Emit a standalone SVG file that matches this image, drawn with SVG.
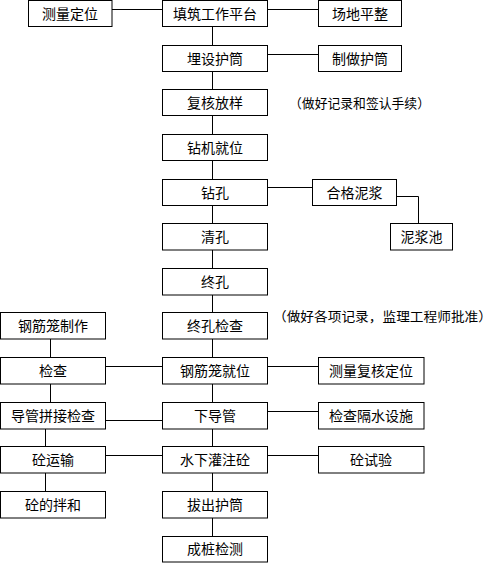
<svg xmlns="http://www.w3.org/2000/svg" width="497" height="563" viewBox="0 0 497 563">
<style>
rect{fill:#fff;stroke:#000;stroke-width:1}
text{font-family:"Noto Sans CJK SC","Noto Sans",sans-serif;font-size:14px;fill:#000;text-anchor:middle}
.ann{text-anchor:start;font-size:13px}
#connectors line,#connectors polyline{stroke:#000;stroke-width:1;fill:none}
</style>
<rect x="0" y="0" width="497" height="563" style="stroke:none"/>
<g id="connectors">
<line x1="212.5" y1="27" x2="212.5" y2="536"/>
<line x1="112" y1="9.5" x2="162.5" y2="9.5"/>
<line x1="267.5" y1="9.5" x2="318.5" y2="9.5"/>
<line x1="267.5" y1="54.5" x2="318.5" y2="54.5"/>
<line x1="267.5" y1="187.5" x2="312.5" y2="187.5"/>
<polyline points="396.5,196.5 418.5,196.5 418.5,223.5"/>
<line x1="105.5" y1="366.5" x2="162.5" y2="366.5"/>
<line x1="267.5" y1="366.5" x2="318.5" y2="366.5"/>
<line x1="105.5" y1="420.5" x2="162.5" y2="420.5"/>
<line x1="267.5" y1="411.5" x2="318.5" y2="411.5"/>
<line x1="105.5" y1="455.5" x2="162.5" y2="455.5"/>
<line x1="267.5" y1="455.5" x2="318.5" y2="455.5"/>
<line x1="50.5" y1="339" x2="50.5" y2="357.5"/>
<line x1="50.5" y1="384" x2="50.5" y2="402.5"/>
<line x1="45.5" y1="429" x2="45.5" y2="446.5"/>
<line x1="45.5" y1="473" x2="45.5" y2="491.5"/>
</g>
<g id="n1"><rect x="28.5" y="0.5" width="83.5" height="26"/><text x="70" y="19">测量定位</text></g>
<g id="n2"><rect x="162.5" y="0.5" width="105" height="26"/><text x="215" y="19">填筑工作平台</text></g>
<g id="n3"><rect x="318.5" y="0.5" width="83" height="26"/><text x="360" y="19">场地平整</text></g>
<g id="n4"><rect x="162.5" y="45.5" width="105" height="26"/><text x="215" y="64">埋设护筒</text></g>
<g id="n5"><rect x="318.5" y="45.5" width="83" height="26"/><text x="360" y="64">制做护筒</text></g>
<g id="n6"><rect x="162.5" y="89.5" width="105" height="26"/><text x="215" y="108">复核放样</text></g>
<g id="a1"><text class="ann" x="289" y="108" textLength="141" lengthAdjust="spacingAndGlyphs">（做好记录和签认手续）</text></g>
<g id="n7"><rect x="162.5" y="134.5" width="105" height="26"/><text x="215" y="153">钻机就位</text></g>
<g id="n8"><rect x="162.5" y="179.5" width="105" height="26"/><text x="215" y="198">钻孔</text></g>
<g id="n9"><rect x="312.5" y="179.5" width="84" height="26"/><text x="354.5" y="198">合格泥浆</text></g>
<g id="n10"><rect x="390.5" y="223.5" width="62" height="26.5"/><text x="421.5" y="242">泥浆池</text></g>
<g id="n11"><rect x="162.5" y="223.5" width="105" height="26.5"/><text x="215" y="242">清孔</text></g>
<g id="n12"><rect x="162.5" y="268.5" width="105" height="26.5"/><text x="215" y="287">终孔</text></g>
<g id="n13"><rect x="162.5" y="312.5" width="105" height="26.5"/><text x="215" y="331">终孔检查</text></g>
<g id="a2"><text class="ann" x="273" y="321" textLength="219" lengthAdjust="spacingAndGlyphs">（做好各项记录，监理工程师批准）</text></g>
<g id="n14"><rect x="0.5" y="312.5" width="105" height="26.5"/><text x="53" y="331">钢筋笼制作</text></g>
<g id="n15"><rect x="0.5" y="357.5" width="105" height="26.5"/><text x="53" y="376">检查</text></g>
<g id="n16"><rect x="162.5" y="357.5" width="105" height="26.5"/><text x="215" y="376">钢筋笼就位</text></g>
<g id="n17"><rect x="318.5" y="357.5" width="105.5" height="26.5"/><text x="371" y="376">测量复核定位</text></g>
<g id="n18"><rect x="0.5" y="402.5" width="105" height="26.5"/><text x="53" y="421">导管拼接检查</text></g>
<g id="n19"><rect x="162.5" y="402.5" width="105" height="26.5"/><text x="215" y="421">下导管</text></g>
<g id="n20"><rect x="318.5" y="402.5" width="105.5" height="26.5"/><text x="371" y="421">检查隔水设施</text></g>
<g id="n21"><rect x="0.5" y="446.5" width="105" height="26.5"/><text x="53" y="465">砼运输</text></g>
<g id="n22"><rect x="162.5" y="446.5" width="105" height="26.5"/><text x="215" y="465">水下灌注砼</text></g>
<g id="n23"><rect x="318.5" y="446.5" width="105.5" height="26.5"/><text x="371" y="465">砼试验</text></g>
<g id="n24"><rect x="0.5" y="491.5" width="105" height="26.5"/><text x="53" y="510">砼的拌和</text></g>
<g id="n25"><rect x="162.5" y="491.5" width="105" height="26.5"/><text x="215" y="510">拔出护筒</text></g>
<g id="n26"><rect x="162.5" y="536.5" width="105" height="25.5"/><text x="215" y="554">成桩检测</text></g>
</svg>
